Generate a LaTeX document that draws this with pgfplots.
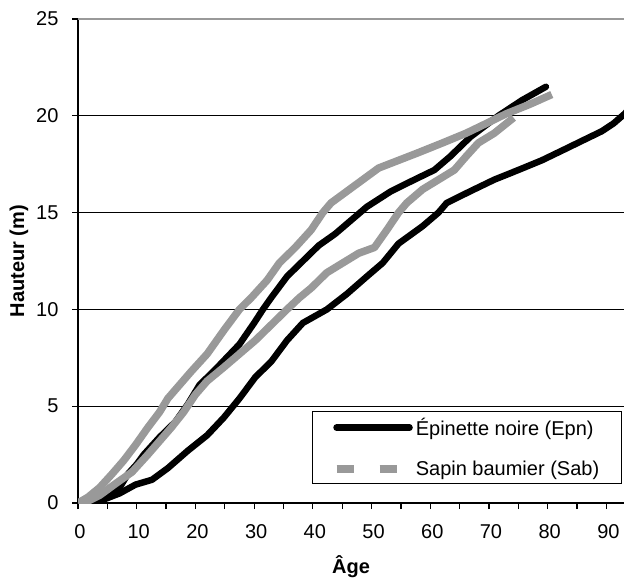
\documentclass[border=0pt]{standalone}
\usepackage{fontspec}
\setmainfont{Liberation Sans}
\usepackage{pgfplots}
\pgfplotsset{compat=1.18}
\definecolor{sab}{RGB}{153,153,153}
\begin{document}
\begin{tikzpicture}
\begin{axis}[
  name=ax,
  scale only axis,
  width=546pt, height=484pt,
  xmin=0, xmax=93, ymin=0, ymax=25,
  axis x line*=bottom, axis y line*=left,
  axis line style={line width=1.4pt, black},
  xtick={0,10,...,90}, minor xtick={5,15,...,85},
  ytick={0,5,10,15,20}, extra y ticks={25},
  extra y tick style={grid style={sab, line width=1.2pt}},
  tick align=outside, tickpos=left,
  major tick length=6pt, minor tick length=6pt,
  tick style={line width=1.2pt, black},
  ymajorgrids, grid style={black, line width=1pt},
  /pgf/number format/assume math mode=true,
  ticklabel style={font=\fontsize{20}{22}\selectfont},
  yticklabel style={xshift=-10pt},
  xticklabel style={yshift=-12pt, xshift=2pt},
  xlabel={\textbf{Âge}}, ylabel={\textbf{Hauteur (m)}},
  every axis x label/.style={at={(axis description cs:0.5,-0.132)}, anchor=center, font=\fontsize{20}{22}\selectfont},
  every axis y label/.style={at={(axis description cs:-0.108,0.5)}, anchor=center, rotate=90, font=\fontsize{20}{22}\selectfont},
  legend cell align=left,
  legend style={at={(0.996,0.039)}, anchor=south east, draw=black, line width=1.2pt,
    font=\fontsize{20}{22}\selectfont, inner xsep=20pt, inner ysep=4.5pt, row sep=20pt,
    /tikz/every odd column/.append style={column sep=1pt}},
]
\addplot[black, line width=6.5pt, line cap=round, line join=round,
  legend image code/.code={\draw[black, line width=6.5pt, line cap=round] (0pt,0pt) -- (73pt,0pt);}]
  coordinates {(2,0) (3,0.1) (4.4,0.3) (6,0.6) (7.1,0.8) (8.5,1.5) (10,2.0) (11.2,2.5) (13.9,3.4) (16.6,4.2) (18.7,5.1) (20.7,6.1) (23.4,6.9) (27.5,8.2) (30,9.3) (31.5,10.0) (32.9,10.6) (35.6,11.7) (38.3,12.5) (41,13.3) (43.8,13.9) (46.5,14.6) (49.2,15.3) (53.3,16.1) (57.3,16.7) (60.7,17.2) (63.4,17.9) (66.8,18.9) (71.6,20.0) (75.6,20.8) (79.7,21.5)};
\addlegendentry{Épinette noire (Epn)}
\addplot[sab, line width=7.5pt, line join=round,
  legend image code/.code={\draw[sab, line width=8pt, dash pattern=on 17pt off 26pt] (0pt,0pt) -- (60pt,0pt);}]
  coordinates {(0,0) (1.7,0.3) (3.7,0.8) (5.8,1.5) (7.8,2.2) (9.8,3.0) (11.9,3.9) (13.9,4.7) (15.3,5.4) (17.3,6.1) (19.3,6.8) (22,7.7) (24.8,8.9) (27.5,10.0) (29.5,10.6) (32.2,11.5) (34.3,12.4) (37,13.2) (39.7,14.1) (41.7,15.0) (43.1,15.5) (45.8,16.1) (48.5,16.7) (51.2,17.3) (54.6,17.7) (58,18.1) (62.1,18.6) (66.1,19.1) (70.2,19.7) (72.9,20.1) (77,20.6) (80.7,21.1)};
\addlegendentry{Sapin baumier (Sab)}
\addplot[black, line width=6.5pt, line cap=round, line join=round, forget plot]
  coordinates {(3.1,0) (3.7,0.1) (7.1,0.5) (9.8,0.95) (12.6,1.2) (15.3,1.8) (18.7,2.7) (22,3.5) (24.8,4.4) (27.5,5.4) (30.2,6.5) (32.9,7.3) (35.6,8.4) (38.3,9.3) (42.4,10.0) (45.8,10.8) (49.2,11.7) (51.9,12.4) (54.6,13.4) (58.7,14.3) (61.4,15.0) (62.8,15.5) (66.8,16.1) (70.9,16.7) (75,17.2) (79,17.7) (83.1,18.3) (85.8,18.7) (89.2,19.2) (91.2,19.6) (93.1,20.1) (94,20.4)};
\addplot[sab, line width=7.5pt, line join=round, forget plot]
  coordinates {(0.3,0) (1.7,0.1) (3.7,0.4) (6.4,1.0) (9.2,1.6) (11.9,2.5) (13.9,3.2) (15.9,3.9) (18,4.7) (20,5.6) (22,6.3) (24.8,7.0) (27.5,7.7) (30.2,8.4) (32.9,9.2) (35.6,10.0) (37.7,10.6) (39.7,11.1) (42.4,11.9) (45.1,12.4) (47.8,12.9) (50.5,13.2) (52.6,14.1) (54.6,15.0) (56,15.5) (58.7,16.2) (61.4,16.7) (64.1,17.2) (66.1,17.9) (68.2,18.6) (70.9,19.1) (74.2,19.9)};
\end{axis}
\pgfresetboundingbox
\path[use as bounding box] ([shift={(-78pt,-74pt)}]ax.south west) rectangle ([shift={(0pt,19pt)}]ax.north east);
\end{tikzpicture}
\end{document}
